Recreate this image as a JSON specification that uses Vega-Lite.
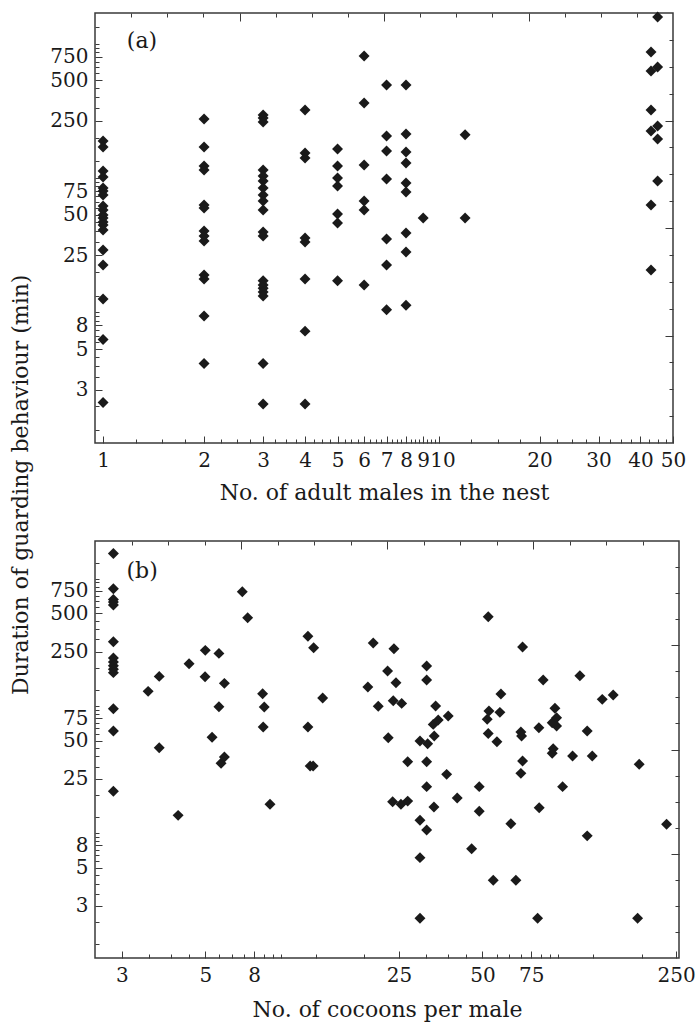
{
  "$schema": "https://vega.github.io/schema/vega-lite/v6.json",
  "background": "white",
  "padding": {"left": 10, "top": 10, "right": 10, "bottom": 4},
  "config": {
    "font": "DejaVu Serif",
    "view": {"stroke": "#3a3a3a", "strokeWidth": 1.5},
    "axis": {
      "domain": false,
      "grid": false,
      "tickColor": "#3a3a3a",
      "tickWidth": 1,
      "labelColor": "#1a1a1a",
      "labelFont": "DejaVu Serif",
      "labelFontSize": 20,
      "titleFont": "DejaVu Serif",
      "titleFontSize": 22,
      "titleFontWeight": "normal",
      "titleColor": "#1a1a1a",
      "labelOverlap": false,
      "labelFlush": false,
      "labelBound": false
    }
  },
  "title": {
    "text": "Duration of guarding behaviour (min)",
    "orient": "left",
    "anchor": "middle",
    "font": "DejaVu Serif",
    "fontSize": 22,
    "fontWeight": "normal",
    "color": "#1a1a1a",
    "offset": 16,
    "dx": 31
  },
  "datasets": {
    "nest": [
      {"males": 1, "minutes": 176.8}, {"males": 1, "minutes": 159.5}, {"males": 1, "minutes": 105.7}, {"males": 1, "minutes": 95.4},
      {"males": 1, "minutes": 79.0}, {"males": 1, "minutes": 75.0}, {"males": 1, "minutes": 70.1}, {"males": 1, "minutes": 58.0},
      {"males": 1, "minutes": 54.2}, {"males": 1, "minutes": 49.7}, {"males": 1, "minutes": 47.2}, {"males": 1, "minutes": 44.1},
      {"males": 1, "minutes": 41.9}, {"males": 1, "minutes": 38.5}, {"males": 1, "minutes": 27.3}, {"males": 1, "minutes": 21.1},
      {"males": 1, "minutes": 11.8}, {"males": 1, "minutes": 5.9}, {"males": 1, "minutes": 2.0},
      {"males": 2, "minutes": 257.7}, {"males": 2, "minutes": 159.5}, {"males": 2, "minutes": 115.2}, {"males": 2, "minutes": 107.5},
      {"males": 2, "minutes": 59.0}, {"males": 2, "minutes": 56.1}, {"males": 2, "minutes": 37.8}, {"males": 2, "minutes": 34.7},
      {"males": 2, "minutes": 31.9}, {"males": 2, "minutes": 17.8}, {"males": 2, "minutes": 16.6}, {"males": 2, "minutes": 8.8},
      {"males": 2, "minutes": 3.9},
      {"males": 3, "minutes": 276.0}, {"males": 3, "minutes": 262.2}, {"males": 3, "minutes": 244.8}, {"males": 3, "minutes": 107.5},
      {"males": 3, "minutes": 97.1}, {"males": 3, "minutes": 89.1}, {"males": 3, "minutes": 79.0}, {"males": 3, "minutes": 70.1},
      {"males": 3, "minutes": 63.2}, {"males": 3, "minutes": 54.2}, {"males": 3, "minutes": 37.2}, {"males": 3, "minutes": 34.7},
      {"males": 3, "minutes": 16.1}, {"males": 3, "minutes": 15.0}, {"males": 3, "minutes": 14.2}, {"males": 3, "minutes": 13.3},
      {"males": 3, "minutes": 12.4}, {"males": 3, "minutes": 3.9}, {"males": 3, "minutes": 1.95},
      {"males": 4, "minutes": 300.8}, {"males": 4, "minutes": 143.9}, {"males": 4, "minutes": 132.1}, {"males": 4, "minutes": 33.5},
      {"males": 4, "minutes": 31.3}, {"males": 4, "minutes": 16.6}, {"males": 4, "minutes": 6.8}, {"males": 4, "minutes": 1.95},
      {"males": 5, "minutes": 154.2}, {"males": 5, "minutes": 115.2}, {"males": 5, "minutes": 93.8}, {"males": 5, "minutes": 81.8},
      {"males": 5, "minutes": 50.6}, {"males": 5, "minutes": 43.4}, {"males": 5, "minutes": 16.1},
      {"males": 6, "minutes": 758.6}, {"males": 6, "minutes": 339.0}, {"males": 6, "minutes": 117.2}, {"males": 6, "minutes": 63.2},
      {"males": 6, "minutes": 54.2}, {"males": 6, "minutes": 15.0},
      {"males": 7, "minutes": 461.6}, {"males": 7, "minutes": 192.6}, {"males": 7, "minutes": 148.9}, {"males": 7, "minutes": 92.2},
      {"males": 7, "minutes": 33.0}, {"males": 7, "minutes": 21.1}, {"males": 7, "minutes": 9.8},
      {"males": 8, "minutes": 461.6}, {"males": 8, "minutes": 199.3}, {"males": 8, "minutes": 146.4}, {"males": 8, "minutes": 121.2},
      {"males": 8, "minutes": 86.1}, {"males": 8, "minutes": 73.8}, {"males": 8, "minutes": 36.5}, {"males": 8, "minutes": 26.4},
      {"males": 8, "minutes": 10.6},
      {"males": 9, "minutes": 47.2},
      {"males": 12, "minutes": 197.0}, {"males": 12, "minutes": 47.2},
      {"males": 43, "minutes": 812.4}, {"males": 43, "minutes": 586.7}, {"males": 43, "minutes": 300.8}, {"males": 43, "minutes": 209.8},
      {"males": 43, "minutes": 59.0}, {"males": 43, "minutes": 19.4},
      {"males": 45, "minutes": 1480}, {"males": 45, "minutes": 628.3}, {"males": 45, "minutes": 228.6}, {"males": 45, "minutes": 183.0},
      {"males": 45, "minutes": 89.1}
    ],
    "cocoon": [
      {"cocoons": 2.33, "minutes": 1481}, {"cocoons": 2.33, "minutes": 780}, {"cocoons": 2.33, "minutes": 644}, {"cocoons": 2.33, "minutes": 613},
      {"cocoons": 2.33, "minutes": 581}, {"cocoons": 2.33, "minutes": 299}, {"cocoons": 2.33, "minutes": 223}, {"cocoons": 2.33, "minutes": 207},
      {"cocoons": 2.33, "minutes": 194}, {"cocoons": 2.33, "minutes": 182}, {"cocoons": 2.33, "minutes": 171}, {"cocoons": 2.33, "minutes": 88.9},
      {"cocoons": 2.33, "minutes": 59.4}, {"cocoons": 2.33, "minutes": 20.0},
      {"cocoons": 3.11, "minutes": 121.8}, {"cocoons": 3.41, "minutes": 159.8}, {"cocoons": 3.41, "minutes": 43.9}, {"cocoons": 3.99, "minutes": 12.9},
      {"cocoons": 4.37, "minutes": 200.8}, {"cocoons": 5.0, "minutes": 255.9}, {"cocoons": 4.99, "minutes": 158.7}, {"cocoons": 5.29, "minutes": 53.0},
      {"cocoons": 5.6, "minutes": 242.3}, {"cocoons": 5.6, "minutes": 92.2}, {"cocoons": 5.7, "minutes": 33.1}, {"cocoons": 5.86, "minutes": 140.8},
      {"cocoons": 5.86, "minutes": 37.1}, {"cocoons": 6.8, "minutes": 739}, {"cocoons": 7.11, "minutes": 462}, {"cocoons": 8.05, "minutes": 116.6},
      {"cocoons": 8.16, "minutes": 91.7}, {"cocoons": 8.09, "minutes": 63.8}, {"cocoons": 8.56, "minutes": 15.8},
      {"cocoons": 11.73, "minutes": 331}, {"cocoons": 12.3, "minutes": 268}, {"cocoons": 13.26, "minutes": 107.9}, {"cocoons": 11.73, "minutes": 63.8},
      {"cocoons": 11.95, "minutes": 31.5}, {"cocoons": 12.25, "minutes": 31.5},
      {"cocoons": 19.3, "minutes": 131.7}, {"cocoons": 20.18, "minutes": 292}, {"cocoons": 21.04, "minutes": 92.9}, {"cocoons": 22.74, "minutes": 175.9},
      {"cocoons": 22.86, "minutes": 52.6}, {"cocoons": 23.71, "minutes": 16.5}, {"cocoons": 23.83, "minutes": 102.8}, {"cocoons": 23.97, "minutes": 263.4},
      {"cocoons": 24.38, "minutes": 142.3}, {"cocoons": 25.41, "minutes": 15.8}, {"cocoons": 25.56, "minutes": 98.0}, {"cocoons": 26.87, "minutes": 16.7},
      {"cocoons": 26.87, "minutes": 34.1}, {"cocoons": 29.76, "minutes": 49.5}, {"cocoons": 29.76, "minutes": 11.8}, {"cocoons": 29.76, "minutes": 6.0},
      {"cocoons": 29.76, "minutes": 2.0}, {"cocoons": 31.46, "minutes": 192.6}, {"cocoons": 31.46, "minutes": 149.4}, {"cocoons": 31.46, "minutes": 34.1},
      {"cocoons": 31.46, "minutes": 21.7}, {"cocoons": 31.46, "minutes": 9.9}, {"cocoons": 31.72, "minutes": 47.2}, {"cocoons": 33.22, "minutes": 67.0},
      {"cocoons": 33.42, "minutes": 15.0}, {"cocoons": 33.5, "minutes": 54.2}, {"cocoons": 33.9, "minutes": 93.3}, {"cocoons": 34.63, "minutes": 72.5},
      {"cocoons": 37.14, "minutes": 27.1}, {"cocoons": 37.63, "minutes": 77.9}, {"cocoons": 40.55, "minutes": 17.7}, {"cocoons": 45.71, "minutes": 7.05},
      {"cocoons": 48.69, "minutes": 21.7}, {"cocoons": 48.69, "minutes": 13.9}, {"cocoons": 52.03, "minutes": 73.4}, {"cocoons": 52.47, "minutes": 470},
      {"cocoons": 52.47, "minutes": 56.9}, {"cocoons": 52.78, "minutes": 85.3}, {"cocoons": 54.7, "minutes": 3.98}, {"cocoons": 56.4, "minutes": 48.9},
      {"cocoons": 57.81, "minutes": 83.3}, {"cocoons": 58.3, "minutes": 116.0}, {"cocoons": 63.33, "minutes": 11.1}, {"cocoons": 66.02, "minutes": 3.98},
      {"cocoons": 68.82, "minutes": 58.3}, {"cocoons": 68.82, "minutes": 27.6}, {"cocoons": 69.22, "minutes": 54.2}, {"cocoons": 69.8, "minutes": 271.6},
      {"cocoons": 69.8, "minutes": 34.5}, {"cocoons": 79.08, "minutes": 2.0}, {"cocoons": 79.93, "minutes": 63.0}, {"cocoons": 80.13, "minutes": 14.8},
      {"cocoons": 82.82, "minutes": 149.4}, {"cocoons": 89.28, "minutes": 69.0}, {"cocoons": 89.28, "minutes": 39.7}, {"cocoons": 90.02, "minutes": 43.1},
      {"cocoons": 91.32, "minutes": 89.6}, {"cocoons": 92.6, "minutes": 75.5}, {"cocoons": 92.6, "minutes": 65.0}, {"cocoons": 97.33, "minutes": 21.7},
      {"cocoons": 105.75, "minutes": 37.8}, {"cocoons": 112.36, "minutes": 161.6}, {"cocoons": 119.4, "minutes": 59.4}, {"cocoons": 119.4, "minutes": 8.9},
      {"cocoons": 124.5, "minutes": 37.8}, {"cocoons": 135.3, "minutes": 105.4}, {"cocoons": 148.2, "minutes": 113.9}, {"cocoons": 181.5, "minutes": 2.0},
      {"cocoons": 183.9, "minutes": 32.5}, {"cocoons": 230.9, "minutes": 11.0}
    ]
  },
  "spacing": 35,
  "vconcat": [
    {
      "width": 578,
      "height": 430,
      "layer": [
        {
          "data": {"name": "nest"},
          "mark": {"type": "point", "shape": "diamond", "filled": true, "size": 120, "color": "#1a1a1a", "opacity": 1},
          "encoding": {
            "x": {
              "field": "males", "type": "quantitative",
              "scale": {"type": "log", "domain": [0.946, 50], "nice": false},
              "axis": {
                "orient": "bottom",
                "title": "No. of adult males in the nest",
                "values": [1, 1.25, 1.5, 1.75, 2, 2.25, 2.5, 2.75, 3, 3.25, 3.5, 3.75, 4, 4.25, 4.5, 4.75, 5, 5.25, 5.5, 5.75, 6, 6.25, 6.5, 6.75, 7, 7.25, 7.5, 7.75, 8, 8.25, 8.5, 8.75, 9, 9.25, 9.5, 9.75, 10, 12.5, 15, 17.5, 20, 22.5, 25, 27.5, 30, 32.5, 35, 37.5, 40, 42.5, 45, 47.5, 50],
                "labelExpr": "indexof([1,2,3,4,5,6,7,8,9,10,20,30,40,50], datum.value) >= 0 ? format(datum.value, 'd') : ''",
                "labelOffset": {"condition": {"test": "datum.value == 10", "value": 4}, "value": 0},
                "tickSize": {"condition": {"test": "indexof([1,2,3,4,5,6,7,8,9,10,20,30,40,50], datum.value) >= 0", "value": -7}, "value": -4},
                "labelPadding": 14,
                "titlePadding": 9
              }
            },
            "y": {
              "field": "minutes", "type": "quantitative",
              "scale": {"type": "log", "domain": [1, 1585], "nice": false},
              "axis": {
                "orient": "left",
                "title": null,
                "values": [1.25, 1.875, 2.5, 3.125, 3.75, 4.375, 5, 5.625, 6.25, 6.875, 7.5, 8.125, 8.75, 9.375, 12.5, 18.75, 25, 31.25, 37.5, 43.75, 50, 56.25, 62.5, 68.75, 75, 81.25, 87.5, 93.75, 125, 187.5, 250, 312.5, 375, 437.5, 500, 562.5, 625, 687.5, 750, 812.5, 875, 937.5, 1250],
                "labelExpr": "indexof([2.5,5,7.5,25,50,75,250,500,750], datum.value) >= 0 ? format(datum.value, '.0f') : ''",
                "tickSize": {"condition": {"test": "indexof([2.5,5,7.5,25,50,75,250,500,750], datum.value) >= 0", "value": -7}, "value": -4},
                "labelPadding": 14
              }
            }
          }
        },
        {
          "data": {"values": [{"panel": "(a)"}]},
          "mark": {"type": "text", "font": "DejaVu Serif", "fontSize": 22, "color": "#1a1a1a", "align": "center", "baseline": "middle"},
          "encoding": {
            "text": {"field": "panel"},
            "x": {
              "datum": 1.3, "type": "quantitative",
              "scale": {"type": "linear", "domain": [0, 16], "nice": false, "zero": false},
              "axis": {"orient": "top", "title": null, "labels": false, "values": [1, 2, 3, 4, 5, 6, 7, 8, 9, 10, 11, 12, 13, 14, 15],
                       "tickSize": {"condition": {"test": "datum.value % 4 == 0", "value": -8}, "value": -4}}
            },
            "y": {
              "datum": 14.95, "type": "quantitative",
              "scale": {"type": "linear", "domain": [0, 16], "nice": false, "zero": false},
              "axis": {"orient": "right", "title": null, "labels": false, "values": [1, 2, 3, 4, 5, 6, 7, 8, 9, 10, 11, 12, 13, 14, 15],
                       "tickSize": {"condition": {"test": "datum.value % 4 == 0", "value": -8}, "value": -4}}
            }
          }
        }
      ],
      "resolve": {"scale": {"x": "independent", "y": "independent"}, "axis": {"x": "independent", "y": "independent"}}
    },
    {
      "width": 584,
      "height": 417,
      "layer": [
        {
          "data": {"name": "cocoon"},
          "mark": {"type": "point", "shape": "diamond", "filled": true, "size": 120, "color": "#1a1a1a", "opacity": 1},
          "encoding": {
            "x": {
              "field": "cocoons", "type": "quantitative",
              "scale": {"type": "log", "domain": [2, 256], "nice": false},
              "axis": {
                "orient": "bottom",
                "title": "No. of cocoons per male",
                "values": [2.5, 3.125, 3.75, 4.375, 5, 5.625, 6.25, 6.875, 7.5, 8.125, 8.75, 9.375, 12.5, 18.75, 25, 31.25, 37.5, 43.75, 50, 56.25, 62.5, 68.75, 75, 81.25, 87.5, 93.75, 125, 187.5, 250],
                "labelExpr": "indexof([2.5,5,7.5,25,50,75,250], datum.value) >= 0 ? format(datum.value, '.0f') : ''",
                "tickSize": {"condition": {"test": "indexof([2.5,5,7.5,25,50,75,250], datum.value) >= 0", "value": -7}, "value": -4},
                "labelPadding": 14,
                "titlePadding": 11
              }
            },
            "y": {
              "field": "minutes", "type": "quantitative",
              "scale": {"type": "log", "domain": [0.975, 1854], "nice": false},
              "axis": {
                "orient": "left",
                "title": null,
                "values": [1.25, 1.875, 2.5, 3.125, 3.75, 4.375, 5, 5.625, 6.25, 6.875, 7.5, 8.125, 8.75, 9.375, 12.5, 18.75, 25, 31.25, 37.5, 43.75, 50, 56.25, 62.5, 68.75, 75, 81.25, 87.5, 93.75, 125, 187.5, 250, 312.5, 375, 437.5, 500, 562.5, 625, 687.5, 750, 812.5, 875, 937.5, 1250],
                "labelExpr": "indexof([2.5,5,7.5,25,50,75,250,500,750], datum.value) >= 0 ? format(datum.value, '.0f') : ''",
                "tickSize": {"condition": {"test": "indexof([2.5,5,7.5,25,50,75,250,500,750], datum.value) >= 0", "value": -7}, "value": -4},
                "labelPadding": 14
              }
            }
          }
        },
        {
          "data": {"values": [{"panel": "(b)"}]},
          "mark": {"type": "text", "font": "DejaVu Serif", "fontSize": 22, "color": "#1a1a1a", "align": "center", "baseline": "middle"},
          "encoding": {
            "text": {"field": "panel"},
            "x": {
              "datum": 1.29, "type": "quantitative",
              "scale": {"type": "linear", "domain": [0, 16], "nice": false, "zero": false},
              "axis": {"orient": "top", "title": null, "labels": false, "values": [1, 2, 3, 4, 5, 6, 7, 8, 9, 10, 11, 12, 13, 14, 15],
                       "tickSize": {"condition": {"test": "datum.value % 4 == 0", "value": -8}, "value": -4}}
            },
            "y": {
              "datum": 14.86, "type": "quantitative",
              "scale": {"type": "linear", "domain": [0, 16], "nice": false, "zero": false},
              "axis": {"orient": "right", "title": null, "labels": false, "values": [1, 2, 3, 4, 5, 6, 7, 8, 9, 10, 11, 12, 13, 14, 15],
                       "tickSize": {"condition": {"test": "datum.value % 4 == 0", "value": -8}, "value": -4}}
            }
          }
        }
      ],
      "resolve": {"scale": {"x": "independent", "y": "independent"}, "axis": {"x": "independent", "y": "independent"}}
    }
  ]
}
